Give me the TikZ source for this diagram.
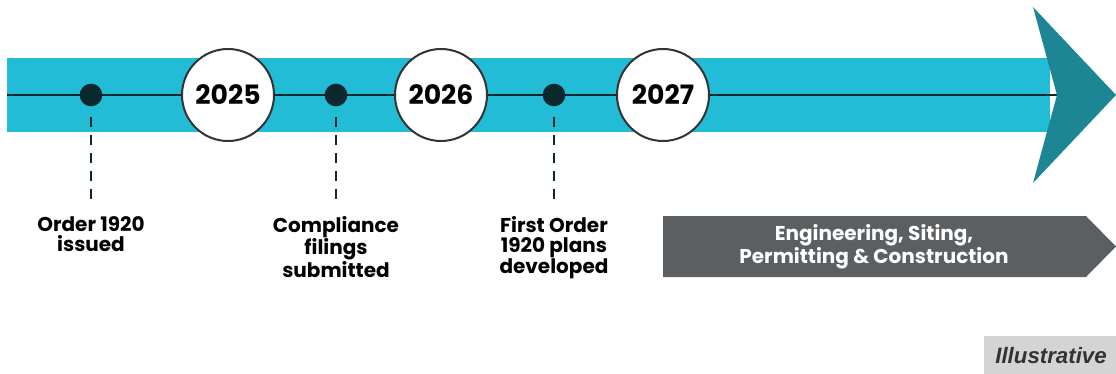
\documentclass[tikz,border=0pt]{standalone}
\usepackage{fontspec}
\setmainfont{Poppins}
\newfontfamily\notefont{Liberation Sans}
\usetikzlibrary{positioning}

\definecolor{bandblue}{HTML}{22BCD6}
\definecolor{headteal}{HTML}{1C8694}
\definecolor{dotdark}{HTML}{0B282C}
\definecolor{phasegray}{HTML}{5C5F61}
\definecolor{notegray}{HTML}{D4D4D4}

\begin{document}
\begin{tikzpicture}[x=0.75pt, y=-0.75pt,
    yearcircle/.style={circle, draw=black!80, line width=1.5pt, fill=white,
        minimum size=69pt, inner sep=0pt, font=\fontsize{20}{20}\selectfont\bfseries},
    milestone/.style={circle, fill=dotdark, minimum size=17pt, inner sep=0pt},
    lead/.style={draw=dotdark, line width=2pt, dash pattern=on 7.5pt off 6pt},
    caption/.style={align=center, inner sep=0pt, anchor=north,
        font=\fontsize{15}{15.5}\selectfont\bfseries}]

    \useasboundingbox (0,0) rectangle (1116,374);

    % time band and its head
    \fill[bandblue] (7,58) rectangle (1050,132);
    \draw[dotdark, line width=1.8pt] (7,95) -- (1057,95);
    \fill[headteal] (1033,7) -- (1116,95) -- (1033,183) -- (1057,95) -- cycle;

    % milestones with their captions
    \foreach \x/\n/\txt in {91/a/{Order 1920\\issued},
                            336/b/{Compliance\\filings\\submitted},
                            554/c/{First Order\\1920 plans\\developed}} {
        \node[milestone] (dot\n) at (\x,95) {};
        \node[caption] (cap\n) at (\x,216) {\txt};
        \draw[lead] ([yshift=-7.5pt]dot\n.south) -- ([yshift=8pt]cap\n.north);
    }

    % years
    \node[yearcircle] (y2025) at (228,95) {2025};
    \node[yearcircle] (y2026) at (441,95) {2026};
    \node[yearcircle] (y2027) at (663,95) {2027};

    % phase arrow
    \fill[phasegray] (663,216) -- (1086,216) -- (1116,246.5) -- (1086,277) -- (663,277) -- cycle;
    \node[align=center, text=white, font=\fontsize{15}{15.5}\selectfont\bfseries]
        (phase) at (874,246.5) {Engineering, Siting,\\Permitting \& Construction};

    % note box
    \fill[notegray] (984,336) rectangle (1116,374);
    \node[text=black!80, font=\notefont\fontsize{16.7}{16.7}\selectfont\bfseries\itshape]
        (note) at (1051,356) {Illustrative};
\end{tikzpicture}
\end{document}
